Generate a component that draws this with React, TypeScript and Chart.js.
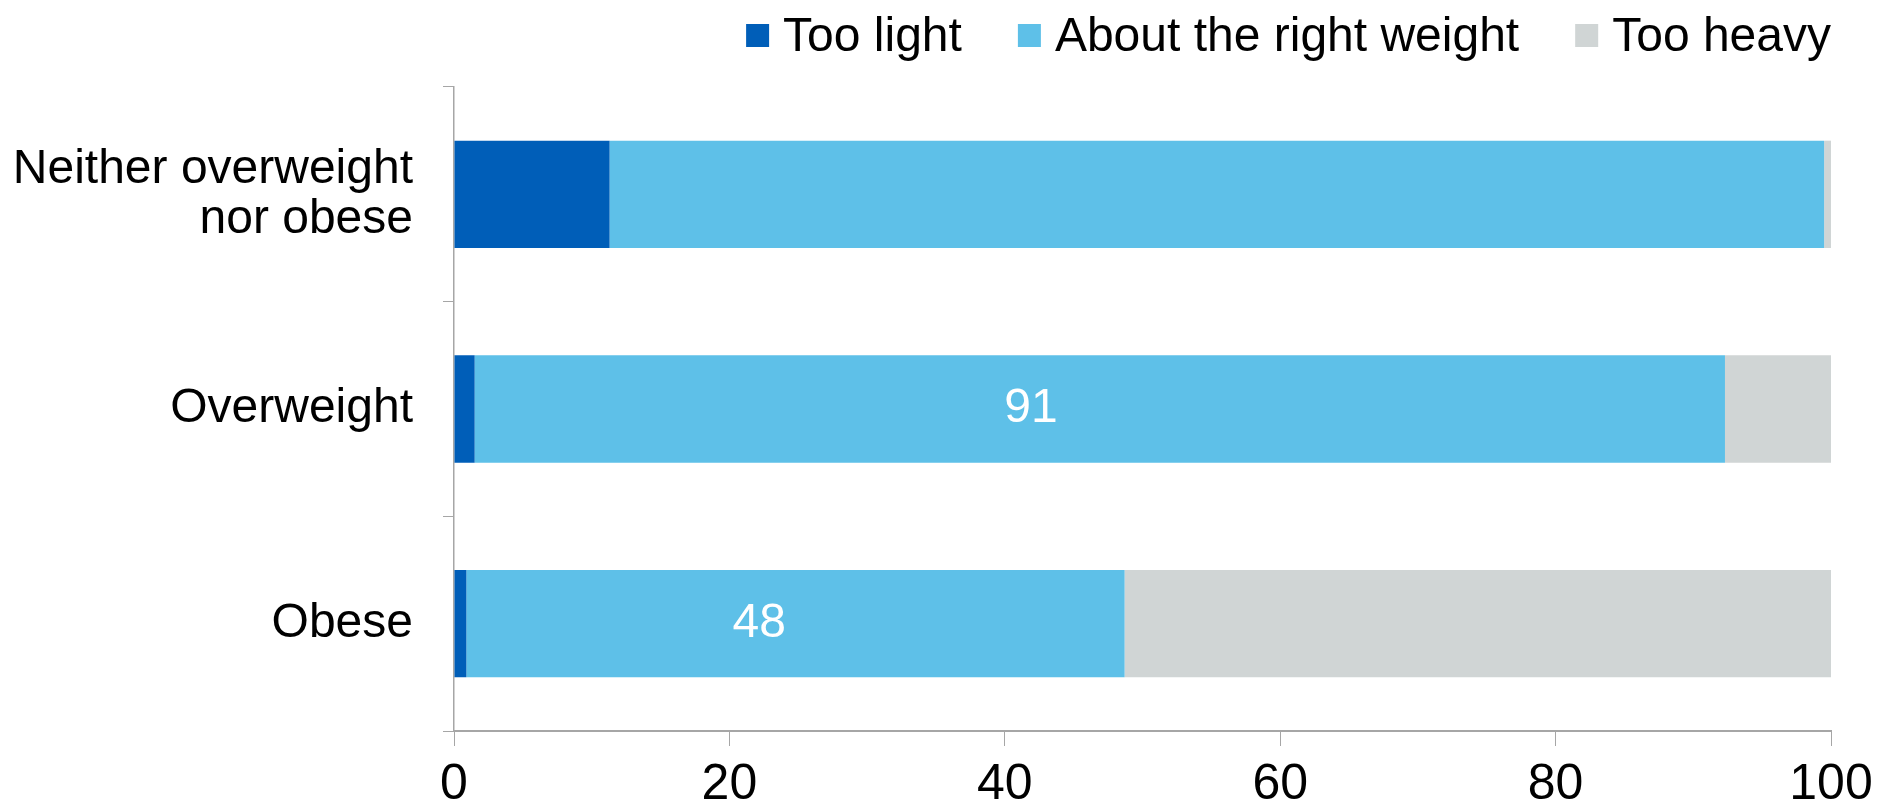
import React, { useEffect, useRef } from "react";
import { Chart, registerables } from "chart.js";

Chart.register(...registerables);

const categories: (string | string[])[] = [["Neither overweight", "nor obese"], "Overweight", "Obese"];
const tooLight = [11.3, 1.5, 0.9];
const aboutRight = [88.2, 90.8, 47.8];
const tooHeavy = [0.5, 7.7, 51.3];
const aboutRightLabels = ["", "91", "48"];
const xTicks = [0, 20, 40, 60, 80, 100];

const FONT = "'Liberation Sans', Arial, sans-serif";

const segmentLabels = {
  id: "segmentLabels",
  afterDatasetsDraw(chart: any) {
    const ctx = chart.ctx;
    const meta = chart.getDatasetMeta(1);
    ctx.save();
    ctx.fillStyle = "#ffffff";
    ctx.font = `48px ${FONT}`;
    ctx.textAlign = "center";
    ctx.textBaseline = "middle";
    meta.data.forEach((bar: any, i: number) => {
      const t = aboutRightLabels[i];
      if (!t) return;
      const { x, base, y } = bar.getProps(["x", "base", "y"], true);
      const px = base + (x - base) * 0.445;
      ctx.fillText(t, px, y);
    });
    ctx.restore();
  },
};

const customLegend = {
  id: "customLegend",
  afterDraw(chart: any) {
    const ctx = chart.ctx;
    const box = 23;
    const boxGap = 14;
    const itemGap = 56;
    const baseline = 51;
    ctx.save();
    ctx.font = `48px ${FONT}`;
    const items = chart.data.datasets.map((d: any) => ({
      label: d.label as string,
      color: d.backgroundColor as string,
      w: ctx.measureText(d.label).width,
    }));
    const total =
      items.reduce((s: number, it: any) => s + box + boxGap + it.w, 0) + itemGap * (items.length - 1);
    let x = chart.chartArea.right - total;
    ctx.textBaseline = "alphabetic";
    ctx.textAlign = "left";
    items.forEach((it: any) => {
      ctx.fillStyle = it.color;
      ctx.fillRect(x, 24, box, box);
      ctx.fillStyle = "#000";
      ctx.fillText(it.label, x + box + boxGap, baseline);
      x += box + boxGap + it.w + itemGap;
    });
    ctx.restore();
  },
};

export default function App() {
  const ref = useRef<HTMLCanvasElement | null>(null);
  useEffect(() => {
    if (!ref.current) return;
    const chart = new Chart(ref.current, {
      type: "bar",
      data: {
        labels: categories,
        datasets: [
          { label: "Too light", data: tooLight, backgroundColor: "#005EB8" },
          { label: "About the right weight", data: aboutRight, backgroundColor: "#5EC0E8" },
          { label: "Too heavy", data: tooHeavy, backgroundColor: "#D0D5D5" },
        ],
      },
      options: {
        indexAxis: "y",
        animation: false,
        responsive: false,
        maintainAspectRatio: false,
        datasets: { bar: { barPercentage: 0.5, categoryPercentage: 1 } },
        layout: { padding: { left: 0, right: 46, top: 87, bottom: 0 } },
        plugins: {
          tooltip: { enabled: false },
          legend: { display: false },
        },
        scales: {
          x: {
            stacked: true,
            min: 0,
            max: 100,
            afterBuildTicks: (axis: any) => {
              axis.ticks = xTicks.map((v) => ({ value: v }));
            },
            afterFit: (scale: any) => {
              scale.height = 76;
              scale.paddingLeft = 0;
              scale.paddingRight = 0;
            },
            grid: { drawOnChartArea: false, tickLength: 15, color: "#a6a6a6" },
            border: { color: "#a6a6a6", width: 2 },
            ticks: {
              color: "#000",
              font: { family: FONT, size: 50, lineHeight: 1 },
              padding: 14,
              maxRotation: 0,
              autoSkip: false,
            },
          },
          y: {
            stacked: true,
            afterFit: (scale: any) => {
              scale.width = 454;
              scale.paddingTop = 0;
              scale.paddingBottom = 0;
            },
            grid: { drawOnChartArea: false, tickLength: 11, color: "#a6a6a6" },
            border: { color: "#a6a6a6", width: 1.5 },
            ticks: { color: "#000", font: { family: FONT, size: 48, lineHeight: 1.04 }, padding: 30 },
          },
        },
      },
      plugins: [segmentLabels, customLegend],
    } as any);
    return () => chart.destroy();
  }, []);
  return (
    <div style={{ position: "fixed", left: 0, top: 0, width: 1877, height: 807, background: "#fff" }}>
      <canvas ref={ref} width={1877} height={807} style={{ width: 1877, height: 807 }} />
    </div>
  );
}
